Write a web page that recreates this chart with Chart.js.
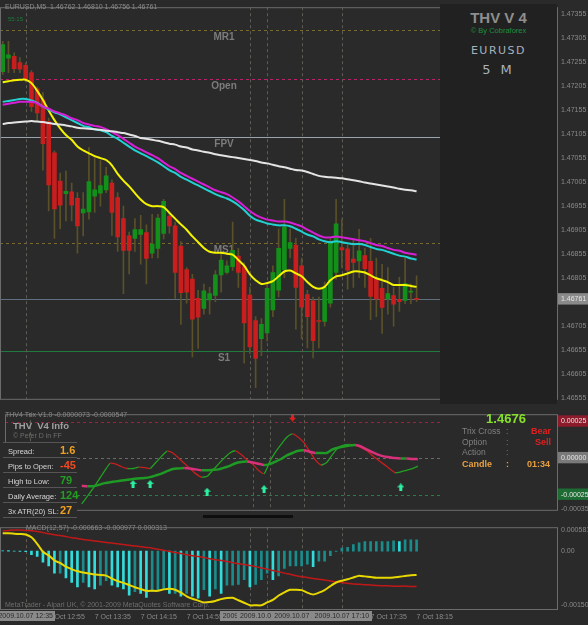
<!DOCTYPE html>
<html><head><meta charset="utf-8">
<script src="https://cdn.jsdelivr.net/npm/chart.js@4.4.0/dist/chart.umd.min.js"></script>
<style>
body{margin:0;background:#2a2a2a;}
#wrap{position:relative;width:588px;height:625px;overflow:hidden;background:#2a2a2a;font-family:"Liberation Sans",Arial,sans-serif;}
.pane{position:absolute;left:0;width:588px;}
.t{position:absolute;white-space:pre;line-height:1;}
.row{position:absolute;left:3px;width:74px;height:14px;border-bottom:1px solid #555;}
.row .l{position:absolute;left:5px;top:4px;font-size:7.5px;color:#d6d6d6;}
.row .v{position:absolute;left:57px;top:1px;font-weight:bold;font-size:11px;}
</style></head><body>
<div id="wrap">
 <div class="pane" style="top:0;height:407px"><canvas id="cMain" width="588" height="407"></canvas></div>
 <div class="pane" style="top:407px;height:111px"><canvas id="cTrix" width="588" height="111"></canvas></div>
 <div class="pane" style="top:520px;height:105px"><canvas id="cMacd" width="588" height="105"></canvas></div>

 <div class="t" id="hdr" style="left:5px;top:3px;font-size:7px;color:#8c8c8c"></div>
 <div class="t" style="left:8px;top:16px;font-size:6px;color:#1e7a3e">55:15</div>
 <div style="position:absolute;left:440px;top:4px;width:117px;height:400px;background:#212121"></div>
 <div class="t" style="left:440px;width:117px;text-align:center;top:10px;font-weight:bold;font-size:15px;color:#8e8e8e">THV V 4</div>
 <div class="t" style="left:440px;width:117px;text-align:center;top:27px;font-size:7.5px;color:#1f8f3f">© By Cobraforex</div>
 <div class="t" style="left:440px;width:117px;text-align:center;top:45px;font-family:'DejaVu Sans';font-size:11px;letter-spacing:1.5px;color:#a6b2be">EURUSD</div>
 <div class="t" style="left:440px;width:117px;text-align:center;top:63px;font-family:'DejaVu Sans';font-size:13px;letter-spacing:3px;color:#a6b2be">5 M</div>

 <div class="t" style="left:5px;top:411px;font-size:7px;color:#8a8a8a">THV4 Trix V1.0 -0.0000073 -0.0000547</div>
 <div class="t" style="left:13px;top:421px;font-weight:bold;font-size:9.5px;color:#a0a0a0">THV  V4 Info</div>
 <div class="t" style="left:13px;top:432px;font-size:7px;color:#6e6e6e">© Peter D in FF</div>
 <div style="position:absolute;left:3px;top:442px;width:74px;height:75px;background:#2a2a2a;border-top:1px solid #555"></div>
 <div id="infoTable"></div>

 <div class="t" id="bigPrice" style="left:470px;width:72px;text-align:center;top:412px;font-weight:bold;font-size:13px;color:#86e02a"></div>
 <div class="t" style="left:462px;top:427px;font-size:8.5px;color:#808080">Trix Cross</div>
 <div class="t" style="left:506px;top:427px;font-size:8.5px;color:#808080">:</div>
 <div class="t" style="left:531px;top:427px;font-weight:bold;font-size:9px;color:#e02020">Bear</div>
 <div class="t" style="left:462px;top:438px;font-size:8.5px;color:#808080">Option</div>
 <div class="t" style="left:506px;top:438px;font-size:8.5px;color:#808080">:</div>
 <div class="t" style="left:535px;top:438px;font-weight:bold;font-size:9px;color:#e02020">Sell</div>
 <div class="t" style="left:462px;top:448px;font-size:8.5px;color:#808080">Action</div>
 <div class="t" style="left:506px;top:448px;font-size:8.5px;color:#808080">:</div>
 <div class="t" style="left:462px;top:460px;font-weight:bold;font-size:9px;color:#e8a040">Candle</div>
 <div class="t" style="left:506px;top:460px;font-weight:bold;font-size:9px;color:#e8a040">:</div>
 <div class="t" style="left:527px;top:460px;font-weight:bold;font-size:9px;color:#e8a040">01:34</div>
 <div style="position:absolute;left:203px;top:515px;width:90px;height:3px;background:#0e0e0e"></div>

 <div class="t" style="left:26px;top:524px;font-size:7px;color:#8a8a8a">MACD(12,57) -0.000663 -0.000977 0.000313</div>
 <div class="t" style="left:5px;top:601px;font-size:7px;color:#6e6e6e">MetaTrader - Alpari UK, © 2001-2009 MetaQuotes Software Corp.</div>
</div>
<script>
// ---------- DATA ----------
const opens  = [1.47235,1.47263,1.47267,1.47254,1.47248,1.47233,1.47199,1.47176,1.47131,1.47066,1.47007,1.46981,1.46985,1.46971,1.46941,1.46943,1.46976,1.46982,1.46989,1.47003,1.46973,1.46929,1.46893,1.46888,1.46896,1.46900,1.46857,1.46867,1.46898,1.46934,1.46914,1.46872,1.46823,1.46803,1.46763,1.46742,1.46760,1.46769,1.46812,1.46817,1.46829,1.46851,1.46829,1.46770,1.46717,1.46679,1.46691,1.46739,1.46780,1.46823,1.46867,1.46874,1.46831,1.46771,1.46758,1.46717,1.46715,1.46753,1.46817,1.46869,1.46866,1.46845,1.46841,1.46852,1.46840,1.46803,1.46784,1.46762,1.46769,1.46761,1.46759,1.46776,1.46762];
const highs  = [1.47298,1.47298,1.47274,1.47264,1.47253,1.47237,1.47203,1.47192,1.47138,1.47070,1.47024,1.47028,1.47003,1.46983,1.46983,1.47077,1.47057,1.47050,1.47036,1.47010,1.46983,1.46955,1.46901,1.46929,1.46936,1.46916,1.46938,1.46938,1.46969,1.46943,1.46922,1.46881,1.46827,1.46813,1.46780,1.46793,1.46786,1.46821,1.46856,1.46841,1.46922,1.46867,1.46837,1.46786,1.46725,1.46721,1.46795,1.46831,1.46908,1.46969,1.46908,1.46888,1.46847,1.46780,1.46766,1.46766,1.46797,1.46888,1.46969,1.46928,1.46874,1.46888,1.46907,1.46867,1.46888,1.46847,1.46834,1.46827,1.46786,1.46807,1.46847,1.46793,1.46810];
const lows   = [1.47229,1.47233,1.47233,1.47233,1.47213,1.47152,1.47131,1.47030,1.46945,1.46888,1.46908,1.46924,1.46924,1.46857,1.46893,1.46928,1.46942,1.46955,1.46983,1.46894,1.46861,1.46773,1.46814,1.46861,1.46834,1.46793,1.46847,1.46847,1.46887,1.46898,1.46763,1.46709,1.46753,1.46641,1.46659,1.46730,1.46730,1.46756,1.46776,1.46814,1.46821,1.46786,1.46628,1.46648,1.46577,1.46644,1.46674,1.46725,1.46766,1.46806,1.46847,1.46699,1.46679,1.46660,1.46639,1.46660,1.46705,1.46745,1.46803,1.46827,1.46782,1.46786,1.46806,1.46786,1.46719,1.46725,1.46690,1.46730,1.46705,1.46736,1.46752,1.46752,1.46756];
const closes = [1.47291,1.47270,1.47241,1.47240,1.47220,1.47162,1.47149,1.47085,1.46999,1.46949,1.46957,1.46986,1.46957,1.46914,1.46949,1.47006,1.46989,1.46998,1.47018,1.46942,1.46891,1.46863,1.46863,1.46906,1.46906,1.46846,1.46876,1.46930,1.46965,1.46914,1.46817,1.46775,1.46776,1.46720,1.46724,1.46779,1.46773,1.46812,1.46843,1.46831,1.46863,1.46817,1.46712,1.46662,1.46638,1.46709,1.46784,1.46817,1.46867,1.46912,1.46879,1.46786,1.46745,1.46725,1.46675,1.46715,1.46786,1.46878,1.46918,1.46864,1.46822,1.46838,1.46862,1.46825,1.46767,1.46762,1.46744,1.46773,1.46751,1.46756,1.46794,1.46778,1.46761];

const maYellow = [1.47213,1.47215,1.47217,1.47218,1.47218,1.47211,1.47195,1.47176,1.47154,1.47134,1.47117,1.47103,1.47093,1.47079,1.47071,1.47065,1.47059,1.47055,1.47051,1.47040,1.47022,1.47008,1.46996,1.46982,1.46969,1.46959,1.46955,1.46955,1.46953,1.46941,1.46929,1.46917,1.46906,1.46892,1.46880,1.46868,1.46860,1.46858,1.46858,1.46856,1.46854,1.46843,1.46831,1.46813,1.46801,1.46793,1.46795,1.46799,1.46809,1.46819,1.46821,1.46815,1.46809,1.46797,1.46787,1.46783,1.46787,1.46801,1.46809,1.46811,1.46815,1.46819,1.46819,1.46817,1.46811,1.46805,1.46801,1.46797,1.46791,1.46791,1.46791,1.46789,1.46787];
const maCyan = [1.47172,1.47174,1.47176,1.47178,1.47178,1.47175,1.47170,1.47162,1.47156,1.47150,1.47146,1.47140,1.47134,1.47128,1.47122,1.47119,1.47115,1.47113,1.47109,1.47101,1.47095,1.47087,1.47079,1.47071,1.47065,1.47059,1.47053,1.47046,1.47038,1.47030,1.47024,1.47016,1.47010,1.47004,1.46998,1.46992,1.46986,1.46980,1.46975,1.46971,1.46965,1.46957,1.46947,1.46935,1.46927,1.46923,1.46919,1.46917,1.46915,1.46915,1.46913,1.46908,1.46902,1.46896,1.46892,1.46886,1.46882,1.46880,1.46882,1.46880,1.46878,1.46876,1.46876,1.46874,1.46870,1.46866,1.46864,1.46860,1.46856,1.46852,1.46850,1.46846,1.46844];
const maMagenta = [1.47166,1.47168,1.47170,1.47172,1.47172,1.47172,1.47169,1.47162,1.47158,1.47152,1.47148,1.47144,1.47138,1.47134,1.47128,1.47125,1.47122,1.47120,1.47115,1.47109,1.47103,1.47095,1.47087,1.47079,1.47073,1.47067,1.47061,1.47055,1.47046,1.47038,1.47032,1.47024,1.47018,1.47012,1.47006,1.47000,1.46994,1.46988,1.46984,1.46980,1.46973,1.46965,1.46955,1.46945,1.46937,1.46931,1.46927,1.46925,1.46923,1.46923,1.46921,1.46917,1.46913,1.46906,1.46900,1.46894,1.46890,1.46890,1.46892,1.46890,1.46888,1.46886,1.46884,1.46882,1.46878,1.46874,1.46872,1.46868,1.46864,1.46862,1.46858,1.46856,1.46854];
const maWhite = [1.47126,1.47128,1.47129,1.47130,1.47131,1.47132,1.47131,1.47130,1.47128,1.47126,1.47125,1.47123,1.47121,1.47118,1.47117,1.47116,1.47115,1.47114,1.47112,1.47111,1.47109,1.47107,1.47104,1.47101,1.47097,1.47095,1.47093,1.47091,1.47088,1.47085,1.47083,1.47079,1.47077,1.47073,1.47071,1.47068,1.47066,1.47063,1.47061,1.47059,1.47057,1.47055,1.47053,1.47051,1.47049,1.47046,1.47044,1.47041,1.47038,1.47036,1.47033,1.47030,1.47029,1.47026,1.47022,1.47018,1.47016,1.47015,1.47014,1.47013,1.47011,1.47009,1.47007,1.47004,1.47002,1.47000,1.46998,1.46996,1.46994,1.46991,1.46989,1.46988,1.46986];

const pivotNames  = ["MR1","Open","FPV","MS1","S1"];
const pivotValues = [1.47321,1.47220,1.47099,1.46878,1.46654];
const priceTickValues = [1.47355,1.47305,1.47255,1.47205,1.47155,1.47105,1.47055,1.47005,1.46955,1.46905,1.46855,1.46805,1.46705,1.46655,1.46605,1.46555];

const trixStartBar = 13;
const trixFast = [-0.000313,-0.00026,-0.000207,-0.000148,-0.000089,-0.000035,-0.000041,-0.000059,-0.000071,-0.000071,-0.000062,-0.000065,-0.000071,-0.00003,0.000012,0.000047,0.000035,0,-0.000035,-0.000071,-0.000106,-0.00013,-0.000124,-0.000083,-0.000041,0,0.000035,0.00005,0.000024,-0.000012,-0.000041,-0.000083,-0.000106,-0.000024,0.000041,0.000094,0.000142,0.000165,0.000142,0.000106,0.000047,-0.000012,-0.000047,-0.00003,0.000024,0.000071,0.000089,0.000094,0.000089,0.000071,0.000053,0.000018,-0.000012,-0.000041,-0.000071,-0.0001,-0.000094,-0.000083,-0.000072,-0.000055];
const trixSignal = [-0.000189,-0.000192,-0.000192,-0.000183,-0.000171,-0.000165,-0.000159,-0.000153,-0.000148,-0.000142,-0.000139,-0.000136,-0.00013,-0.000118,-0.000106,-0.000089,-0.000074,-0.000071,-0.000068,-0.000071,-0.000077,-0.000083,-0.000083,-0.00008,-0.000077,-0.000065,-0.000053,-0.000035,-0.000027,-0.000024,-0.00003,-0.000038,-0.000047,-0.000041,-0.000024,-0.000006,0.000018,0.000035,0.00005,0.000053,0.000044,0.000035,0.000035,0.000035,0.000059,0.000071,0.00008,0.000086,0.000089,0.00008,0.000059,0.000041,0.000024,0.000012,0.000006,0,-0.000003,-0.000003,-0.000006,-0.000007];
const trixBuyBars  = [22,25,35,45,69];
const trixBuyLevels = [-0.000177,-0.000177,-0.00023,-0.000212,-0.0002];
const trixSellBars = [50];
const trixSellLevels = [0.000277];
const trixLevels = [0.00025,0,-0.00025];
const trixTickValues = [0.00025,0,-0.00025,-0.00035];

const macdHist = [0.00002,0.00001,0,-0.00001,-0.00002,-0.0001,-0.00015,-0.00031,-0.00041,-0.00061,-0.00061,-0.00074,-0.00087,-0.00099,-0.00087,-0.00099,-0.00105,-0.00094,-0.00082,-0.00094,-0.00099,-0.00105,-0.00122,-0.00112,-0.00117,-0.00128,-0.00112,-0.00107,-0.00105,-0.00117,-0.00117,-0.00125,-0.00117,-0.00125,-0.0013,-0.00107,-0.00125,-0.00105,-0.00117,-0.00094,-0.00094,-0.00092,-0.00079,-0.00099,-0.00092,-0.00079,-0.00061,-0.00079,-0.00069,-0.00048,-0.00041,-0.00041,-0.00041,-0.00036,-0.00043,-0.00028,-0.00028,-0.00013,-0.00001,0.00008,0.0001,0.00018,0.00023,0.00026,0.00026,0.00026,0.00026,0.00026,0.00028,0.00026,0.00031,0.00031,0.000313];
const macdMain = [0.00049,0.00049,0.00048,0.00047,0.00046,0.00038,0.0002,-0.00002,-0.00012,-0.00026,-0.00033,-0.00043,-0.0005,-0.00056,-0.00059,-0.00062,-0.00065,-0.00066,-0.00068,-0.00076,-0.00083,-0.00088,-0.00094,-0.001,-0.00105,-0.0011,-0.0011,-0.0011,-0.00106,-0.00104,-0.00107,-0.00115,-0.00125,-0.00132,-0.00137,-0.00142,-0.00141,-0.00138,-0.00133,-0.0013,-0.00129,-0.00136,-0.00143,-0.0015,-0.0015,-0.0015,-0.00142,-0.00135,-0.00123,-0.00114,-0.00107,-0.00107,-0.00108,-0.00115,-0.0012,-0.00115,-0.00108,-0.00097,-0.00087,-0.00082,-0.00078,-0.00073,-0.00068,-0.0007,-0.00072,-0.00074,-0.00074,-0.00074,-0.00073,-0.00071,-0.00069,-0.00067,-0.000663];
const macdSignal = [0.00056,0.00057,0.00058,0.00058,0.00057,0.00056,0.00054,0.00051,0.00048,0.00045,0.00043,0.0004,0.00037,0.00035,0.00032,0.0003,0.00028,0.00026,0.00024,0.00022,0.0002,0.00018,0.00016,0.00014,0.00012,0.0001,0.00008,0.00005,0.00002,-0.00001,-0.00004,-0.00007,-0.0001,-0.00013,-0.00015,-0.00018,-0.00021,-0.00024,-0.00026,-0.00029,-0.00032,-0.00035,-0.00037,-0.0004,-0.00043,-0.00047,-0.0005,-0.00054,-0.00057,-0.00061,-0.00064,-0.00068,-0.00071,-0.00073,-0.00076,-0.00078,-0.0008,-0.00083,-0.00085,-0.00087,-0.00089,-0.00091,-0.00092,-0.00093,-0.00094,-0.00095,-0.00096,-0.00096,-0.00097,-0.00097,-0.00097,-0.00098,-0.000977];
const macdTickValues = [0.000581,0,-0.001505];

const timeTickBars   = [8,16,24,32,40,48,56,64,72];
const timeTickLabels = ["7 Oct 12:55","7 Oct 13:35","7 Oct 14:15","7 Oct 14:55","7 Oct 15:35","7 Oct 16:15","7 Oct 16:55","7 Oct 17:35","7 Oct 18:15"];
const separatorBars   = [4,43,46,52,59];
const separatorLabels = ["2009.10.07 12:35","2009.10.07 15:50","2009.10.07 16:05","2009.10.07 16:35","2009.10.07 17:10"];

const infoLabels = ["Spread:","Pips to Open:","High to Low:","Daily Average:","3x ATR(20) SL:"];
const infoValues = ["1.6","-45","79","124","27"];

// ---------- STYLE / HELPERS ----------
const last = closes.length - 1;
const lastClose = closes[last];
const FONT = "Liberation Sans";
Chart.defaults.font.family = FONT;
const X_MIN = -0.47, X_MAX = 96.6;
const GREEN = '#13901a', RED = '#c81e1e', WICK = '#5a5128';
const pivotStyle = {MR1:{c:'#7a6a2a',d:[3,3]},Open:{c:'#c0206a',d:[3,3]},FPV:{c:'#9aa4ae',d:[]},MS1:{c:'#7a6a2a',d:[3,3]},S1:{c:'#1f7a40',d:[]}};
const infoColors = ['#f0a020','#f04a20','#22a022','#22a022','#f0a020'];

document.getElementById('hdr').textContent = 'EURUSD,M5  ' + [opens[last],highs[last],lows[last],closes[last]].map(v=>v.toFixed(5)).join(' ');
document.getElementById('bigPrice').textContent = lastClose.toFixed(4);
const tbl = document.getElementById('infoTable');
infoLabels.forEach((l,k)=>{
  const r = document.createElement('div'); r.className='row'; r.style.top = (443 + k*15) + 'px';
  r.innerHTML = '<span class="l"></span><span class="v"></span>';
  r.children[0].textContent = l; r.children[1].textContent = infoValues[k]; r.children[1].style.color = infoColors[k];
  tbl.appendChild(r);
});

const xScale = (display) => ({type:'linear', min:X_MIN, max:X_MAX, display, offset:false, grid:{display:false}});
const pts = (arr, start=0) => arr.map((v,i)=>({x:start+i, y:v}));

const frame = {id:'frame', afterDraw(chart){
  const {ctx, chartArea:a} = chart; ctx.save(); ctx.strokeStyle='#6c6c6c'; ctx.lineWidth=1;
  ctx.strokeRect(a.left+0.5, a.top+0.5, a.width-1, a.height-1); ctx.restore();
}};
const seps = {id:'seps', beforeDatasetsDraw(chart){
  const {ctx, chartArea:a, scales:{x}} = chart; ctx.save(); ctx.strokeStyle='#5e5c54'; ctx.lineWidth=1; ctx.setLineDash([3,3]);
  separatorBars.forEach(b=>{const px=Math.round(x.getPixelForValue(b))+0.5; ctx.beginPath(); ctx.moveTo(px,a.top); ctx.lineTo(px,a.bottom); ctx.stroke();});
  ctx.restore();
}};
const pivots = {id:'pivots', beforeDatasetsDraw(chart){
  const {ctx, chartArea:a, scales:{x,y}} = chart; ctx.save(); ctx.lineWidth=1;
  const lx = x.getPixelForValue(38.5);
  pivotNames.forEach((n,k)=>{
    const py = Math.round(y.getPixelForValue(pivotValues[k]))+0.5;
    ctx.strokeStyle = pivotStyle[n].c; ctx.setLineDash(pivotStyle[n].d);
    ctx.beginPath(); ctx.moveTo(a.left,py); ctx.lineTo(a.right,py); ctx.stroke();
    ctx.setLineDash([]); ctx.fillStyle='#7c7c7c'; ctx.font='bold 10px '+FONT; ctx.textAlign='center'; ctx.textBaseline='top';
    ctx.fillText(n, lx, py+1.5);
  });
  const cy = Math.round(y.getPixelForValue(lastClose))+0.5;
  ctx.strokeStyle='#5f6f7f'; ctx.setLineDash([]); ctx.beginPath(); ctx.moveTo(a.left,cy); ctx.lineTo(a.right,cy); ctx.stroke();
  ctx.restore();
}};
const trixLv = {id:'trixLv', beforeDatasetsDraw(chart){
  const {ctx, chartArea:a, scales:{y}} = chart; ctx.save(); ctx.lineWidth=1; ctx.setLineDash([3,3]);
  const cols = ['#a02040','#6a6a6a','#2a7a4a'];
  trixLevels.forEach((v,k)=>{const py=Math.round(y.getPixelForValue(v))+0.5; ctx.strokeStyle=cols[k]; ctx.beginPath(); ctx.moveTo(a.left,py); ctx.lineTo(440,py); ctx.stroke();});
  ctx.restore();
}};
const sepLabels = {id:'sepLabels', afterDraw(chart){
  const {ctx, chartArea:a, scales:{x}} = chart; ctx.save(); ctx.font='7px '+FONT; ctx.textBaseline='middle'; ctx.textAlign='center';
  separatorBars.forEach((b,k)=>{
    const px = x.getPixelForValue(b); const w = ctx.measureText(separatorLabels[k]).width + 6;
    ctx.fillStyle='#8a8a8a'; ctx.fillRect(Math.round(px-w/2), a.bottom+1, Math.round(w), 10);
    ctx.fillStyle='#2a2a2a'; ctx.fillText(separatorLabels[k], px, a.bottom+6.5);
  });
  ctx.restore();
}};

function yAxis(min, max, tickVals, fmt, hl){
  return {position:'right', min, max, grid:{display:false, drawTicks:false}, border:{display:false},
    afterFit(s){ s.width = 30; },
    afterBuildTicks(s){ s.ticks = tickVals.map(v=>({value:v})); },
    ticks:{autoSkip:false, padding:3, font:{size:7}, callback:fmt,
      color: c => hl(c.tick.value) ? '#e6e6e6' : '#8a8a8a',
      showLabelBackdrop:true,
      backdropColor: c => hl(c.tick.value) || 'rgba(0,0,0,0)',
      backdropPadding:{left:3,right:4,top:2,bottom:1}}};
}
const base = {responsive:false, animation:false, devicePixelRatio:1, events:[],
  plugins:{legend:{display:false}, tooltip:{enabled:false}}};

function arrowImg(color, up){
  const c = document.createElement('canvas'); c.width=7; c.height=8; const g=c.getContext('2d'); g.fillStyle=color; g.beginPath();
  if(up){g.moveTo(3.5,0);g.lineTo(7,4);g.lineTo(5,4);g.lineTo(5,8);g.lineTo(2,8);g.lineTo(2,4);g.lineTo(0,4);}
  else {g.moveTo(3.5,8);g.lineTo(7,4);g.lineTo(5,4);g.lineTo(5,0);g.lineTo(2,0);g.lineTo(2,4);g.lineTo(0,4);}
  g.closePath(); g.fill(); return c;
}

// ---------- MAIN ----------
new Chart(document.getElementById('cMain'), {
  type:'bar',
  data:{datasets:[
    {type:'line', data:pts(maWhite), borderColor:'#e4e4e4', borderWidth:2, pointRadius:0, tension:0.3, order:0},
    {type:'line', data:pts(maMagenta), borderColor:'#d61fd6', borderWidth:2, pointRadius:0, tension:0.3, order:0},
    {type:'line', data:pts(maCyan), borderColor:'#22d2d2', borderWidth:2, pointRadius:0, tension:0.3, order:0},
    {type:'line', data:pts(maYellow), borderColor:'#f4f400', borderWidth:2, pointRadius:0, tension:0.3, order:0},
    {data:closes.map((c,i)=>({x:i, y:[opens[i], c]})), backgroundColor: c => closes[c.dataIndex]>=opens[c.dataIndex] ? GREEN : RED,
      barThickness:4, minBarLength:1, grouped:false, order:1},
    {data:lows.map((l,i)=>({x:i, y:[l, highs[i]]})), backgroundColor:WICK, barThickness:1, grouped:false, order:2}
  ]},
  options:{...base, layout:{padding:{top:3,bottom:2,left:0,right:0}},
    scales:{x:xScale(false),
      y:yAxis(1.46552, 1.47369, priceTickValues.concat([lastClose]), v=>v.toFixed(5), v => v===lastClose ? '#8a8a8a' : null)}},
  plugins:[pivots, seps, frame]
});

// ---------- TRIX ----------
const upArrow = arrowImg('#2cf0a0', true), dnArrow = arrowImg('#e02020', false);
new Chart(document.getElementById('cTrix'), {
  type:'line',
  data:{datasets:[
    {data:pts(trixSignal, trixStartBar), borderWidth:2.5, pointRadius:0, tension:0.2,
      segment:{borderColor: c => c.p1.parsed.y >= c.p0.parsed.y ? '#1f9a25' : '#d8307a'}},
    {data:pts(trixFast, trixStartBar), borderWidth:1.3, pointRadius:0, tension:0.2,
      segment:{borderColor: c => c.p1.parsed.y >= c.p0.parsed.y ? '#22a022' : '#c81e1e'}},
    {type:'scatter', data:trixBuyBars.map((b,k)=>({x:b, y:trixBuyLevels[k]})), pointStyle:upArrow, pointRadius:4},
    {type:'scatter', data:trixSellBars.map((b,k)=>({x:b, y:trixSellLevels[k]})), pointStyle:dnArrow, pointRadius:4}
  ]},
  options:{...base, layout:{padding:{top:1,bottom:0,left:0,right:0}},
    scales:{x:xScale(false),
      y:yAxis(-0.00036, 0.0003, trixTickValues, v=>v.toFixed(5), v => v===0.00025 ? '#8c1c2c' : v===0 ? '#7a7a7a' : v===-0.00025 ? '#1c6c34' : null)}},
  plugins:[trixLv, seps, frame]
});

// ---------- MACD ----------
new Chart(document.getElementById('cMacd'), {
  type:'bar',
  data:{datasets:[
    {type:'line', data:pts(macdMain), borderColor:'#e8d800', borderWidth:2, pointRadius:0, tension:0.2, order:0},
    {type:'line', data:pts(macdSignal), borderColor:'#c01818', borderWidth:1.5, pointRadius:0, tension:0.2, order:0},
    {data:pts(macdHist), barThickness:2, grouped:false, order:1,
      backgroundColor: c => { const i=c.dataIndex; return (i>0 && macdHist[i] < macdHist[i-1]) ? '#30dcdc' : '#1b8c8c'; }}
  ]},
  options:{...base, layout:{padding:{top:0,bottom:0,left:0,right:0}},
    scales:{
      x:{type:'linear', min:X_MIN, max:X_MAX, offset:false, position:'bottom', grid:{display:false, drawTicks:false}, border:{display:false},
        afterFit(s){ s.height = 15; },
        afterBuildTicks(s){ s.ticks = timeTickBars.map(v=>({value:v})); },
        ticks:{autoSkip:false, maxRotation:0, minRotation:0, align:'start', padding:3, color:'#8a8a8a', font:{size:7},
          callback: v => timeTickLabels[timeTickBars.indexOf(v)]}},
      y:yAxis(-0.00163, 0.00066, macdTickValues, v => v===0 ? '0.00' : v.toFixed(6), v => null)}},
  plugins:[seps, frame, sepLabels]
});
</script>
</body></html>
